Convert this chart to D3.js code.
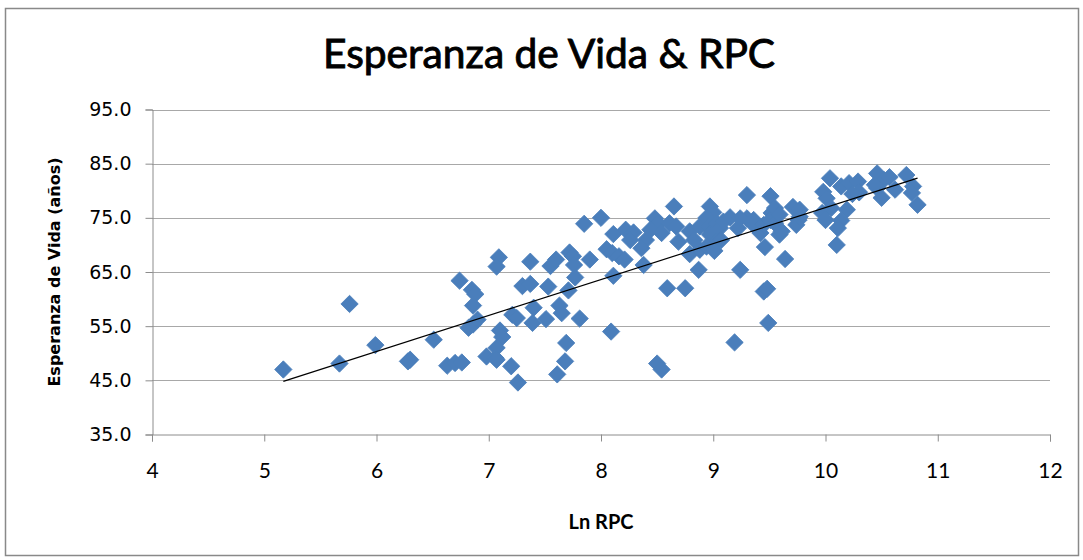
<!DOCTYPE html>
<html>
<head>
<meta charset="utf-8">
<script src="https://cdn.jsdelivr.net/npm/d3@7"></script>
<style>
  html, body { margin: 0; padding: 0; background: #ffffff; }
  svg { display: block; }
</style>
</head>
<body>
<svg id="chart" width="1083" height="560"></svg>
<script>
// ---- Data ----
const lnRPC = [
  5.17, 5.76, 5.67, 5.99, 6.28, 6.30, 6.51, 6.63, 6.70, 6.76,
  6.74, 6.85, 6.88, 6.86, 6.82, 6.86, 6.90, 6.98, 7.06, 7.10,
  7.12, 7.07, 7.07, 7.09, 7.07, 7.20, 7.26, 7.21, 7.25, 7.37,
  7.30, 7.37, 7.40, 7.39, 7.51, 7.55, 7.60, 7.53, 7.63, 7.65,
  7.69, 7.68, 7.61, 7.72, 7.75, 7.76, 7.71, 7.77, 7.81, 7.90,
  7.85, 8.00, 8.05, 8.10, 8.16, 8.21, 8.11, 8.09, 8.11, 8.22,
  8.29, 8.26, 8.40, 8.36, 8.38, 8.48, 8.51, 8.44, 8.54, 8.61,
  8.67, 8.65, 8.69, 8.59, 8.75, 8.50, 8.54, 8.79, 8.79, 8.88,
  8.83, 8.88, 8.87, 8.97, 9.00, 8.94, 8.96, 8.99, 9.03, 9.06,
  8.97, 9.03, 8.94, 9.01, 9.07, 9.09, 9.15, 9.22, 9.30, 9.30,
  9.24, 9.36, 9.36, 9.42, 9.45, 9.46, 9.24, 9.19, 9.45, 9.48,
  9.49, 9.51, 9.52, 9.51, 9.55, 9.55, 9.59, 9.59, 9.61, 9.64,
  9.71, 9.76, 9.74, 9.77, 9.77, 9.98, 10.01, 10.04, 9.97, 10.05,
  10.00, 10.19, 10.14, 10.11, 10.10, 10.14, 10.21, 10.29, 10.30, 10.24,
  10.46, 10.52, 10.46, 10.50, 10.57, 10.62, 10.72, 10.78, 10.77, 10.82,
  10.44
];
const lifeExp = [
  47.0, 59.1, 48.1, 51.5, 48.5, 48.8, 52.5, 47.7, 48.2, 48.3,
  63.4, 61.7, 60.9, 58.8, 54.7, 55.3, 56.2, 49.4, 49.1, 54.2,
  53.0, 51.0, 48.8, 67.7, 66.0, 47.6, 44.6, 57.1, 56.5, 66.9,
  62.4, 62.8, 58.4, 55.6, 56.3, 66.1, 67.3, 62.3, 58.8, 57.4,
  51.9, 48.5, 46.1, 68.6, 67.9, 66.3, 61.6, 64.0, 56.4, 67.3,
  73.9, 75.0, 69.2, 68.5, 67.9, 67.3, 64.3, 54.0, 72.0, 72.8,
  72.3, 70.9, 70.9, 69.4, 66.3, 74.9, 74.0, 72.8, 72.2, 74.0,
  73.4, 77.1, 70.6, 62.0, 62.0, 48.1, 47.0, 72.5, 68.3, 73.4,
  70.9, 69.1, 65.4, 77.1, 76.0, 75.0, 73.4, 72.4, 74.0, 73.1,
  71.9, 70.6, 69.7, 68.9, 70.9, 74.3, 75.1, 73.1, 79.2, 74.9,
  74.9, 73.7, 74.6, 72.2, 73.7, 69.6, 65.4, 52.0, 61.4, 61.9,
  55.6, 79.0, 75.9, 74.6, 74.0, 76.8, 75.6, 71.9, 72.5, 67.4,
  77.0, 74.6, 73.7, 75.2, 76.5, 79.8, 78.6, 82.3, 75.9, 76.8,
  74.6, 76.5, 74.5, 73.1, 70.0, 80.8, 81.4, 81.7, 79.7, 79.4,
  83.2, 82.0, 80.5, 78.7, 82.5, 80.2, 82.9, 80.8, 79.6, 77.4,
  81.1
];
const xTicks = [4, 5, 6, 7, 8, 9, 10, 11, 12];
const yTicks = [35, 45, 55, 65, 75, 85, 95];
const titleText = "Esperanza de Vida & RPC";
const xTitle = "Ln RPC";
const yTitle = "Esperanza de Vida (años)";

// ---- Layout ----
const svg = d3.select("#chart");
const plot = { left: 152, right: 1050, top: 109.5, bottom: 434.5 };

const x = d3.scaleLinear().domain([4, 12]).range([plot.left, plot.right]);
const y = d3.scaleLinear().domain([35, 95]).range([plot.bottom, plot.top]);

// outer chart border
svg.append("rect")
  .attr("x", 5.5).attr("y", 8.5)
  .attr("width", 1073).attr("height", 547)
  .attr("fill", "#ffffff")
  .attr("stroke", "#898989").attr("stroke-width", 1.5);

// title
svg.append("text")
  .attr("x", 549).attr("y", 68)
  .attr("text-anchor", "middle")
  .attr("font-family", "Lato, 'Open Sans', sans-serif")
  .attr("font-size", 40)
  .attr("textLength", 452).attr("lengthAdjust", "spacingAndGlyphs")
  .attr("fill", "#000")
  .attr("stroke", "#000").attr("stroke-width", 0.9)
  .text(titleText);

// horizontal gridlines
svg.append("g").selectAll("line")
  .data(yTicks.filter(t => t !== 35))
  .join("line")
  .attr("x1", plot.left).attr("x2", plot.right)
  .attr("y1", d => Math.round(y(d)) + 0.5).attr("y2", d => Math.round(y(d)) + 0.5)
  .attr("stroke", "#a8a8a8").attr("stroke-width", 1.2);

// Y axis
const yAxis = d3.axisLeft(y).tickValues(yTicks).tickFormat(d3.format(".1f")).tickSizeOuter(0).tickSize(7).tickPadding(14);
const gy = svg.append("g").attr("transform", `translate(${plot.left + 0.5},0)`).call(yAxis);
gy.select(".domain").attr("stroke", "#8c8c8c");
gy.selectAll(".tick line").attr("stroke", "#8c8c8c");
gy.selectAll(".tick text")
  .attr("font-family", "'DejaVu Sans', Verdana, sans-serif")
  .attr("font-size", 19).attr("fill", "#000");

// X axis
const xAxis = d3.axisBottom(x).tickValues(xTicks).tickFormat(d3.format("d")).tickSizeOuter(0).tickSize(7).tickPadding(22);
const gx = svg.append("g").attr("transform", `translate(0,${plot.bottom})`).call(xAxis);
gx.select(".domain").attr("stroke", "#8c8c8c");
gx.selectAll(".tick line").attr("stroke", "#8c8c8c");
gx.selectAll(".tick text")
  .attr("font-family", "Lato, 'Open Sans', sans-serif")
  .attr("font-size", 21).attr("fill", "#000");

// axis titles
svg.append("text")
  .attr("x", 601).attr("y", 529)
  .attr("text-anchor", "middle")
  .attr("font-family", "Lato, 'Open Sans', sans-serif")
  .attr("font-weight", "bold")
  .attr("font-size", 20)
  .attr("fill", "#000")
  .text(xTitle);

svg.append("text")
  .attr("transform", "translate(60,272) rotate(-90)")
  .attr("text-anchor", "middle")
  .attr("font-family", "'DejaVu Sans', Verdana, sans-serif")
  .attr("font-weight", "bold")
  .attr("font-size", 16)
  .attr("fill", "#000")
  .text(yTitle);

// points
const pts = lnRPC.map((v, i) => ({ x: v, y: lifeExp[i] }));
const diamond = d3.symbol().type(d3.symbolSquare).size(150);
svg.append("g").selectAll("path")
  .data(pts)
  .join("path")
  .attr("d", diamond)
  .attr("transform", d => `translate(${x(d.x)},${y(d.y)}) rotate(45)`)
  .attr("fill", "#4a7ebb")
  .attr("stroke", "#4a7ebb").attr("stroke-width", 0.8);

// linear trendline (least squares from the data)
const mx = d3.mean(pts, d => d.x), my = d3.mean(pts, d => d.y);
const sxy = d3.sum(pts, d => (d.x - mx) * (d.y - my));
const sxx = d3.sum(pts, d => (d.x - mx) * (d.x - mx));
const slope = sxy / sxx, intercept = my - slope * mx;
const [xmin, xmax] = d3.extent(pts, d => d.x);
svg.append("line")
  .attr("x1", x(xmin)).attr("y1", y(intercept + slope * xmin))
  .attr("x2", x(xmax)).attr("y2", y(intercept + slope * xmax))
  .attr("stroke", "#000").attr("stroke-width", 1.2);
</script>
</body>
</html>
